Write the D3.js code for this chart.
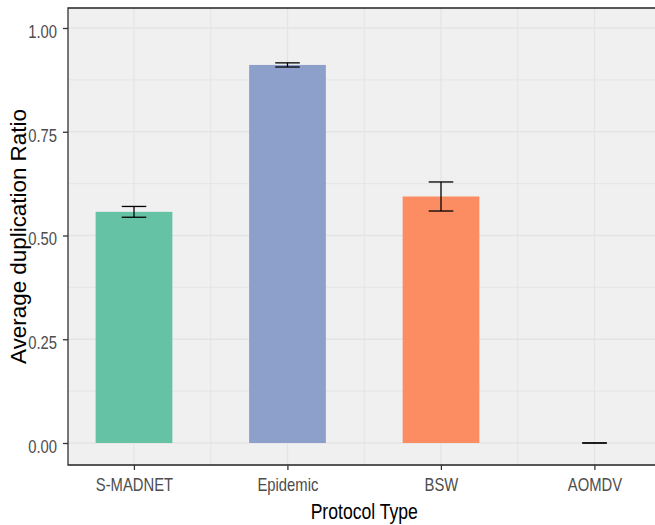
<!DOCTYPE html>
<html>
<head>
<meta charset="utf-8">
<script src="https://cdn.jsdelivr.net/npm/d3@7"></script>
<style>
  html, body { margin: 0; padding: 0; background: #ffffff; }
  text { font-family: "Liberation Sans", Arial, sans-serif; }
</style>
</head>
<body>
<svg id="chart" width="655" height="525"></svg>
<script>
// ---- data ----
const protocols = ["S-MADNET", "Epidemic", "BSW", "AOMDV"];
const meanRatio = [0.557, 0.911, 0.594, 0.0];
const errRatio  = [0.013, 0.005, 0.035, 0.0];
const barColors = ["#66c2a5", "#8da0cb", "#fc8d62", "#e78ac3"];
const yTicks = [0, 0.25, 0.5, 0.75, 1.0];
const yMinor = [0.125, 0.375, 0.625, 0.875];
const xTitle = "Protocol Type";
const yTitle = "Average duplication Ratio";

// ---- layout (pixel coords, drawn in a horizontally squished group) ----
const SX = 0.8;            // horizontal compression of the original image
const px = v => v / SX;    // pixel x -> inner coordinate
const panel = { left: 68, right: 660.5, top: 8, bottom: 465 };

const svg = d3.select("#chart");
const g = svg.append("g").attr("transform", `scale(${SX},1)`);

const x = d3.scalePoint()
  .domain(protocols)
  .range([px(panel.left), px(panel.right)])
  .padding(0.43);
const step = x.step();
const barW = step * 0.5;
const errW = step * 0.16;

const y = d3.scaleLinear().domain([0, 1]).range([443, 28]);

// panel background
g.append("rect")
  .attr("x", px(panel.left)).attr("y", panel.top)
  .attr("width", px(panel.right) - px(panel.left))
  .attr("height", panel.bottom - panel.top)
  .attr("fill", "#f0f0f0");

const gridColor = "#e4e4e4";
g.selectAll(".hminor").data(yMinor).enter().append("line")
  .attr("x1", px(panel.left)).attr("x2", px(panel.right))
  .attr("y1", d => y(d)).attr("y2", d => y(d))
  .attr("stroke", gridColor).attr("stroke-width", 1);
g.selectAll(".hmajor").data(yTicks).enter().append("line")
  .attr("x1", px(panel.left)).attr("x2", px(panel.right))
  .attr("y1", d => y(d)).attr("y2", d => y(d))
  .attr("stroke", gridColor).attr("stroke-width", 1.4);
const midX = protocols.slice(0, -1).map((p, i) => (x(p) + x(protocols[i + 1])) / 2);
g.selectAll(".vminor").data(midX).enter().append("line")
  .attr("x1", d => d).attr("x2", d => d)
  .attr("y1", panel.top).attr("y2", panel.bottom)
  .attr("stroke", gridColor).attr("stroke-width", 1.2);
g.selectAll(".vmajor").data(protocols).enter().append("line")
  .attr("x1", d => x(d)).attr("x2", d => x(d))
  .attr("y1", panel.top).attr("y2", panel.bottom)
  .attr("stroke", gridColor).attr("stroke-width", 1.6);

// bars
g.selectAll(".bar").data(protocols).enter().append("rect")
  .attr("x", d => x(d) - barW / 2)
  .attr("width", barW)
  .attr("y", (d, i) => y(meanRatio[i]))
  .attr("height", (d, i) => y(0) - y(meanRatio[i]))
  .attr("fill", (d, i) => barColors[i]);

// error bars
const eb = g.selectAll(".eb").data(protocols).enter().append("g");
eb.append("line")
  .attr("x1", d => x(d)).attr("x2", d => x(d))
  .attr("y1", (d, i) => y(meanRatio[i] + errRatio[i]))
  .attr("y2", (d, i) => y(meanRatio[i] - errRatio[i]))
  .attr("stroke", "#000").attr("stroke-width", 1.6);
eb.append("line")
  .attr("x1", d => x(d) - errW / 2).attr("x2", d => x(d) + errW / 2)
  .attr("y1", (d, i) => y(meanRatio[i] + errRatio[i]))
  .attr("y2", (d, i) => y(meanRatio[i] + errRatio[i]))
  .attr("stroke", "#000").attr("stroke-width", 1.3);
eb.append("line")
  .attr("x1", d => x(d) - errW / 2).attr("x2", d => x(d) + errW / 2)
  .attr("y1", (d, i) => y(meanRatio[i] - errRatio[i]))
  .attr("y2", (d, i) => y(meanRatio[i] - errRatio[i]))
  .attr("stroke", "#000").attr("stroke-width", 1.3);

// panel border
g.append("rect")
  .attr("x", px(panel.left)).attr("y", panel.top)
  .attr("width", px(panel.right) - px(panel.left))
  .attr("height", panel.bottom - panel.top)
  .attr("fill", "none").attr("stroke", "#222").attr("stroke-width", 1.5);

// axes
const yAxis = d3.axisLeft(y).tickValues(yTicks).tickFormat(d3.format(".2f"))
  .tickSize(px(5)).tickPadding(px(6));
const yG = g.append("g").attr("transform", `translate(${px(panel.left)},0)`).call(yAxis);
yG.select(".domain").remove();
yG.selectAll(".tick line").attr("stroke", "#333").attr("stroke-width", 1.3);
yG.selectAll(".tick text")
  .attr("fill", "#4d4d4d").attr("font-size", 18.5)
  .attr("font-family", '"Liberation Sans", Arial, sans-serif')
  .attr("dy", "0.5em");

const xAxis = d3.axisBottom(x).tickSize(5).tickPadding(7);
const xG = g.append("g").attr("transform", `translate(0,${panel.bottom})`).call(xAxis);
xG.select(".domain").remove();
xG.selectAll(".tick line").attr("stroke", "#333").attr("stroke-width", 1.6);
xG.selectAll(".tick text")
  .attr("fill", "#4d4d4d").attr("font-size", 18.5)
  .attr("font-family", '"Liberation Sans", Arial, sans-serif')
  .attr("dy", "0.75em");

// x axis title
g.append("text")
  .attr("x", px((panel.left + panel.right) / 2))
  .attr("y", 519)
  .attr("text-anchor", "middle")
  .attr("font-size", 22)
  .attr("fill", "#000")
  .text(xTitle);

// y axis title (not squished: drawn directly in pixel coords)
svg.append("text")
  .attr("transform", `translate(26,${(panel.top + panel.bottom) / 2}) rotate(-90)`)
  .attr("text-anchor", "middle")
  .attr("font-size", 22.4)
  .attr("fill", "#000")
  .text(yTitle);
</script>
</body>
</html>
